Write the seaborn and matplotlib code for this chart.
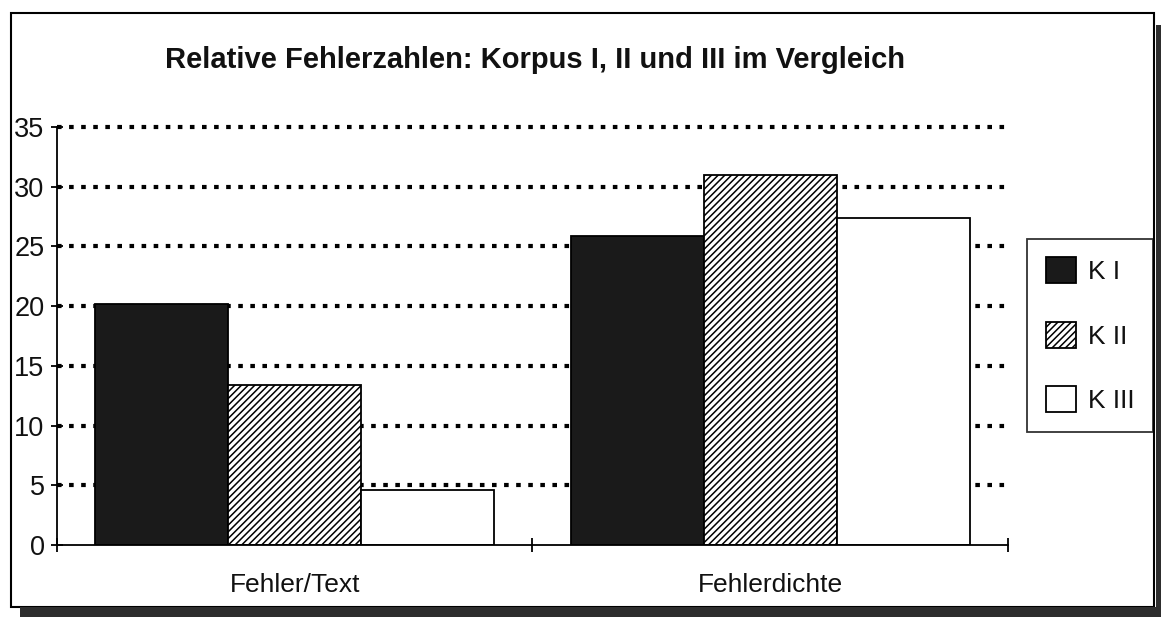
import pandas as pd
import numpy as np
import seaborn as sns
import matplotlib.pyplot as plt
from matplotlib.patches import Patch, Rectangle
import matplotlib

# Data
kategorien = ['Fehler/Text', 'Fehlerdichte']
korpora = ['K I', 'K II', 'K III']
werte_k1 = [20.2, 25.9]
werte_k2 = [13.4, 31.0]
werte_k3 = [4.6, 27.4]

df = pd.DataFrame({
    'Kategorie': kategorien * 3,
    'Korpus': [k for k in korpora for _ in kategorien],
    'Wert': werte_k1 + werte_k2 + werte_k3,
})

sns.set_theme(style='white')
plt.rcParams['font.family'] = ['Liberation Sans', 'DejaVu Sans']
plt.rcParams['hatch.linewidth'] = 1.1
plt.rcParams['hatch.color'] = 'black'

farben = {'K I': '#1a1a1a', 'K II': 'white', 'K III': 'white'}
muster = {'K I': '', 'K II': '/////', 'K III': ''}

fig = plt.figure(figsize=(11.61, 6.17), dpi=100)
ax = fig.add_axes([0.0491, 0.1167, 0.8191, 0.6775])

sns.barplot(data=df, x='Kategorie', y='Wert', hue='Korpus', hue_order=korpora,
            palette=farben, saturation=1, width=0.84, edgecolor='black',
            linewidth=1.3, legend=False, ax=ax)

# hatch for K II
for korpus, cont in zip(korpora, ax.containers):
    for bar in cont:
        bar.set_hatch(muster[korpus])

ax.set_xlim(-0.5, 1.5)
ax.set_ylim(0, 35)
ax.set_yticks(np.arange(0, 36, 5))
ax.set_xlabel('')
ax.set_ylabel('')

# dotted grid
ax.set_axisbelow(True)
ax.yaxis.grid(True, color='black', linewidth=3, linestyle=(0, (1.1, 1.8)))
ax.xaxis.grid(False)
for gl in ax.get_ygridlines():
    gl.set_clip_on(False)
ax.get_ygridlines()[0].set_visible(False)

for s in ['top', 'right']:
    ax.spines[s].set_visible(False)
for s in ['left', 'bottom']:
    ax.spines[s].set_color('black')
    ax.spines[s].set_linewidth(1.3)

ax.tick_params(axis='y', direction='inout', length=8, width=1.3, color='black',
               labelsize=19.5, pad=5, left=True)
ax.tick_params(axis='x', which='major', length=0, labelsize=19, pad=20)
ax.set_xticks([-0.5, 0.5, 1.5], minor=True)
ax.tick_params(axis='x', which='minor', direction='inout', length=10, width=1.3,
               color='black', bottom=True)
for lab in ax.get_yticklabels() + ax.get_xticklabels():
    lab.set_color('#111111')

# legend
handles = [Patch(facecolor=farben[k], edgecolor='black', hatch=muster[k], linewidth=1.3, label=k)
           for k in korpora]
lgd = fig.legend(handles=handles, loc='upper left', bbox_to_anchor=(0.885, 0.613),
                 frameon=True, fancybox=False, edgecolor='black', fontsize=19,
                 handlelength=1.15, handleheight=1.15, handletextpad=0.45,
                 labelspacing=1.42, borderpad=0.7, borderaxespad=0)
lgd.get_frame().set_linewidth(1.3)
for t in lgd.get_texts():
    t.set_color('#111111')

# title
fig.text(0.461, 0.903, 'Relative Fehlerzahlen: Korpus I, II und III im Vergleich',
         ha='center', va='center', fontsize=21, fontweight='bold', color='#111111')

# outer frame and shadow
fig.patches.append(Rectangle((0.0095, 0.0162), 0.9845, 0.963, transform=fig.transFigure,
                             fill=False, edgecolor='black', linewidth=1.5, zorder=5))
fig.patches.append(Rectangle((0.017, 0.0), 0.983, 0.0162, transform=fig.transFigure,
                             facecolor='#2e2e2e', edgecolor='none', zorder=5))
fig.patches.append(Rectangle((0.9957, 0.0), 0.0043, 0.9595, transform=fig.transFigure,
                             facecolor='#2e2e2e', edgecolor='none', zorder=5))

fig.savefig('out.png', dpi=100)
